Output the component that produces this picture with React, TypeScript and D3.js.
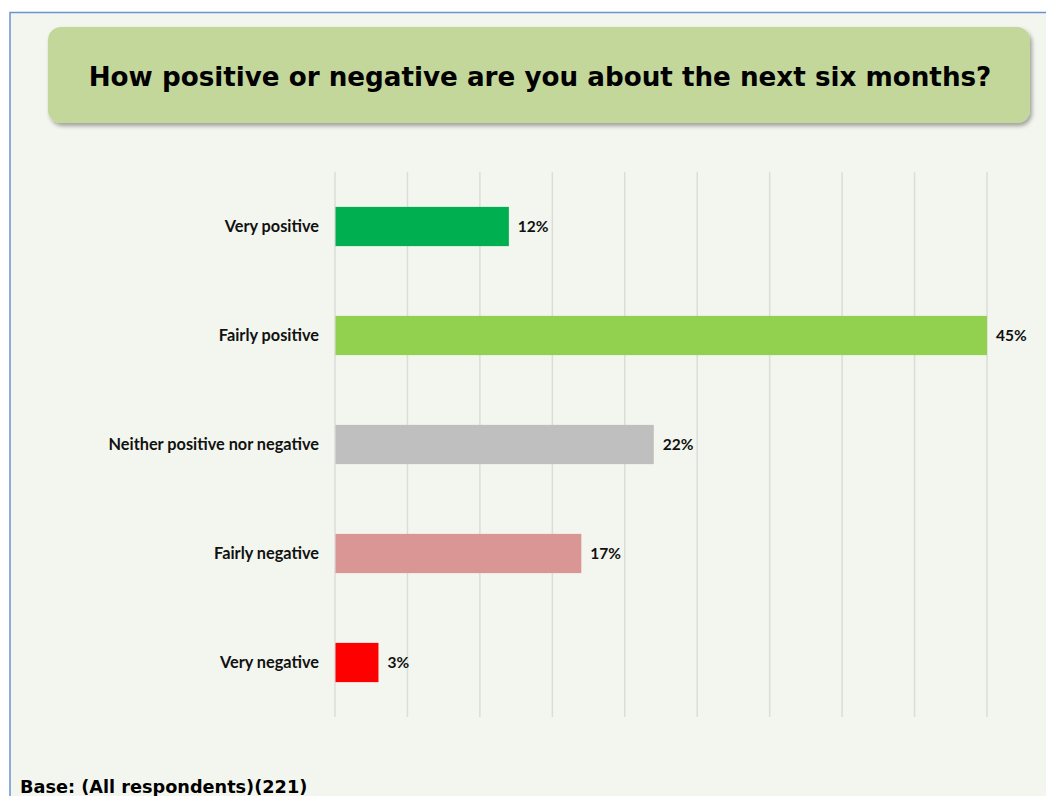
import React from 'react';
import * as d3 from 'd3';

// Survey answers, top to bottom
const categories = [
  'Very positive',
  'Fairly positive',
  'Neither positive nor negative',
  'Fairly negative',
  'Very negative',
];
const values = [12, 45, 22, 17, 3];
const barColors = ['#00B050', '#92D050', '#BFBFBF', '#DA9694', '#FF0000'];
const gridTicks = [0, 5, 10, 15, 20, 25, 30, 35, 40, 45];

const title = 'How positive or negative are you about the next six months?';
const baseNote = 'Base: (All respondents)(221)';

const width = 1046;
const height = 796;
const plot = { left: 335, right: 987, top: 172, bottom: 717 };

const labelFont = 'Lato, "Open Sans", sans-serif';
const titleFont = '"DejaVu Sans", Verdana, sans-serif';

export default function App() {
  const x = d3.scaleLinear().domain([0, 45]).range([plot.left, plot.right]);
  const y = d3
    .scaleBand<string>()
    .domain(categories)
    .range([plot.top, plot.bottom])
    .paddingInner(0.64)
    .paddingOuter(0.32);

  return (
    <div style={{ position: 'fixed', left: 0, top: 0, width, height, overflow: 'hidden' }}>
      <svg width={width} height={height} viewBox={`0 0 ${width} ${height}`}>
        <defs>
          <filter id="titleShadow" x="-5%" y="-20%" width="110%" height="150%">
            <feDropShadow dx="2" dy="3" stdDeviation="2" floodColor="#000" floodOpacity="0.35" />
          </filter>
        </defs>
        <rect x={0} y={0} width={width} height={height} fill="#fff" />
        {/* chart area with its blue frame */}
        <rect x={10} y={12.5} width={width + 20} height={height + 20} fill="#F3F6EE" stroke="#6A93D0" strokeWidth={1.5} />

        {/* title box */}
        <rect x={48} y={27} width={982} height={96} rx={13} fill="#C4D79B" filter="url(#titleShadow)" />
        <text
          x={540}
          y={86}
          textAnchor="middle"
          fontFamily={titleFont}
          fontWeight="bold"
          fontSize={26.2}
          fill="#000"
        >
          {title}
        </text>

        {/* vertical gridlines */}
        {gridTicks.map(t => (
          <line key={t} x1={x(t)} x2={x(t)} y1={plot.top} y2={plot.bottom} stroke="#DCDCD8" strokeWidth={1.5} />
        ))}

        {/* bars */}
        {categories.map((c, i) => (
          <rect
            key={c}
            x={x(0) + 0.5}
            y={y(c)}
            width={x(values[i]) - x(0) - 0.5}
            height={y.bandwidth()}
            fill={barColors[i]}
          />
        ))}

        {/* category labels */}
        {categories.map(c => (
          <text
            key={c}
            x={plot.left - 16}
            y={(y(c) ?? 0) + y.bandwidth() / 2}
            dy="0.35em"
            textAnchor="end"
            fontFamily={labelFont}
            fontWeight="bold"
            fontSize={16.3}
            fill="#111"
          >
            {c}
          </text>
        ))}

        {/* value labels */}
        {categories.map((c, i) => (
          <text
            key={c}
            x={x(values[i]) + 9}
            y={(y(c) ?? 0) + y.bandwidth() / 2}
            dy="0.35em"
            fontFamily={labelFont}
            fontWeight="bold"
            fontSize={15.5}
            fill="#111"
          >
            {values[i]}%
          </text>
        ))}

        <text x={20} y={793} fontFamily={titleFont} fontWeight="bold" fontSize={17.7} fill="#000">
          {baseNote}
        </text>
      </svg>
    </div>
  );
}
